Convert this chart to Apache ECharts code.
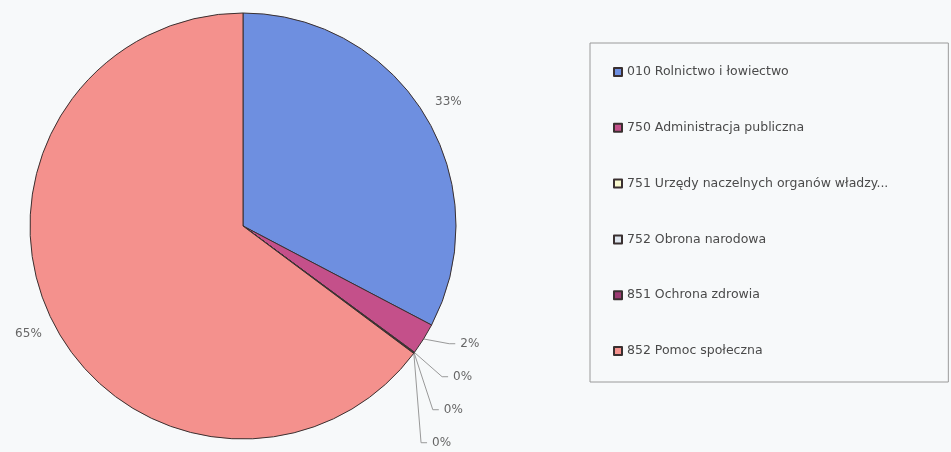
<!DOCTYPE html>
<html>
<head>
<meta charset="utf-8">
<script src="https://cdn.jsdelivr.net/npm/echarts@6/dist/echarts.min.js"></script>
<style>
  html, body { margin: 0; padding: 0; background: #f7f9fa; overflow: hidden; }
  /* a little extra room below the visible area so the stacked labels can sit low */
  #chart { width: 951px; height: 470px; }
</style>
</head>
<body>
<div id="chart"></div>
<script>
// Budget sections (dział) and their share of expenditure, in per cent
const categories = [
  '010 Rolnictwo i łowiectwo',
  '750 Administracja publiczna',
  '751 Urzędy naczelnych organów władzy...',
  '752 Obrona narodowa',
  '851 Ochrona zdrowia',
  '852 Pomoc społeczna'
];
const shares = [32.7, 2.4, 0.04, 0.03, 0.04, 64.8];
const sliceColors = ['#6e8fe0', '#c4508a', '#fbfbd0', '#dfe6ee', '#9c3a72', '#f4918d'];

const chart = echarts.init(document.getElementById('chart'));

// Large slices get a centred label just outside the rim with no leader line;
// small ones get a leader line and are stacked below.
const isLarge = i => shares[i] >= 5;

const data = categories.map((name, i) => ({
  name: name,
  value: shares[i],
  itemStyle: { color: sliceColors[i] },
  labelLine: isLarge(i)
    ? { show: false, length: 27, length2: 0 }
    : { show: true, length: 9, length2: 6 },
  label: isLarge(i) ? { distanceToLabelLine: 0, lineHeight: 14 } : {}
}));

chart.setOption({
  backgroundColor: '#f7f9fa',
  animation: false,
  legend: {
    orient: 'vertical',
    left: 590,
    top: 43,
    padding: [22, 60, 24, 23],
    itemGap: 41.8,
    itemWidth: 8,
    itemHeight: 8,
    icon: 'rect',
    borderColor: '#9a9a9a',
    borderWidth: 1,
    textStyle: { fontFamily: 'DejaVu Sans', fontSize: 12.5, lineHeight: 14, color: '#4a4a4a' },
    data: categories
  },
  series: [{
    type: 'pie',
    center: [243, 226],
    radius: 213,
    startAngle: 90,
    clockwise: true,
    avoidLabelOverlap: true,
    itemStyle: { borderColor: '#3a3030', borderWidth: 1 },
    label: {
      position: 'outside',
      fontFamily: 'DejaVu Sans',
      fontSize: 12,
      lineHeight: 31,
      color: '#666',
      overflow: 'none',
      formatter: p => Math.round(p.percent) + '%'
    },
    labelLine: {
      lineStyle: { color: '#999', width: 1 }
    },
    labelLayout: p => (isLarge(p.dataIndex) ? { align: 'center' } : {}),
    emphasis: { disabled: true },
    data: data
  }]
});
</script>
</body>
</html>
